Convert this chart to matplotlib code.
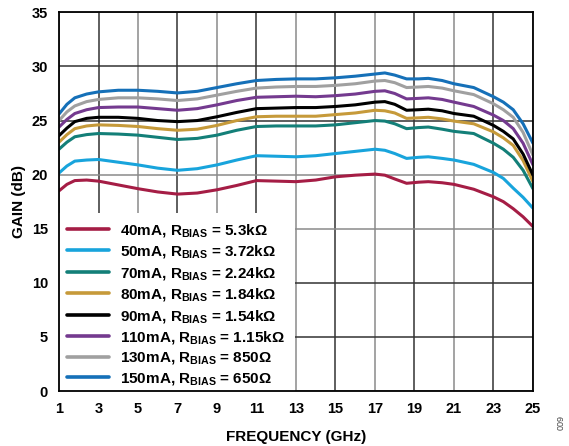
import matplotlib
matplotlib.use('Agg')
import matplotlib.pyplot as plt
from matplotlib.patches import Rectangle

plt.rcParams['font.family'] = ['Liberation Sans', 'DejaVu Sans']
plt.rcParams['font.weight'] = 'bold'
plt.rcParams['mathtext.fontset'] = 'custom'
plt.rcParams['mathtext.rm'] = 'Liberation Sans:bold'
plt.rcParams['mathtext.bf'] = 'Liberation Sans:bold'
plt.rcParams['mathtext.it'] = 'Liberation Sans:bold'

# frequency points (GHz)
freq = [1, 1.4, 1.8, 2.4, 3, 4, 5, 6, 7, 8, 9, 10, 11, 12, 13, 14, 15, 16, 17,
        17.5, 18, 18.6, 19.2, 19.7, 20.4, 21, 22, 23, 23.5, 24, 24.5, 25]

gain_40 = [18.5, 19.1, 19.45, 19.5, 19.4, 19.05, 18.7, 18.4, 18.2, 18.3, 18.6, 19.0, 19.45, 19.4,
           19.35, 19.5, 19.8, 19.95, 20.05, 19.95, 19.6, 19.2, 19.3, 19.35, 19.25, 19.1, 18.65,
           17.95, 17.5, 16.85, 16.1, 15.2]
gain_50 = [20.15, 20.8, 21.25, 21.35, 21.4, 21.15, 20.9, 20.6, 20.4, 20.55, 20.9, 21.35, 21.75, 21.7,
           21.65, 21.75, 21.95, 22.15, 22.35, 22.25, 21.95, 21.5, 21.6, 21.65, 21.5, 21.35, 20.95,
           20.2, 19.65, 18.75, 17.9, 16.9]
gain_70 = [22.35, 23.0, 23.5, 23.7, 23.8, 23.75, 23.65, 23.45, 23.25, 23.35, 23.65, 24.1, 24.45, 24.5,
           24.5, 24.5, 24.6, 24.8, 25.0, 24.95, 24.7, 24.25, 24.35, 24.4, 24.2, 24.0, 23.8,
           22.9, 22.35, 21.6, 20.4, 18.7]
gain_80 = [23.0, 23.7, 24.25, 24.5, 24.6, 24.55, 24.45, 24.25, 24.1, 24.2, 24.55, 25.0, 25.35, 25.4,
           25.4, 25.4, 25.55, 25.7, 25.95, 25.9, 25.7, 25.2, 25.25, 25.3, 25.15, 24.95, 24.7,
           23.95, 23.4, 22.7, 21.3, 19.35]
gain_90 = [23.6, 24.3, 24.9, 25.2, 25.3, 25.3, 25.2, 25.0, 24.9, 25.0, 25.35, 25.75, 26.1, 26.15,
           26.2, 26.2, 26.3, 26.45, 26.7, 26.75, 26.5, 25.95, 26.0, 26.05, 25.9, 25.65, 25.4,
           24.55, 24.0, 23.3, 21.9, 19.95]
gain_110 = [24.4, 25.1, 25.65, 26.0, 26.2, 26.25, 26.25, 26.1, 25.95, 26.1, 26.45, 26.85, 27.15, 27.2,
            27.25, 27.2, 27.3, 27.45, 27.7, 27.75, 27.5, 27.0, 27.05, 27.1, 26.95, 26.7, 26.3,
            25.5, 25.0, 24.25, 22.9, 20.9]
gain_130 = [25.0, 25.8, 26.35, 26.75, 26.95, 27.1, 27.1, 27.0, 26.85, 27.0, 27.35, 27.7, 28.0, 28.1,
            28.15, 28.15, 28.25, 28.4, 28.65, 28.7, 28.5, 28.05, 28.1, 28.15, 28.0, 27.75, 27.4,
            26.55, 26.0, 25.3, 23.9, 21.8]
gain_150 = [25.6, 26.5, 27.1, 27.45, 27.65, 27.8, 27.8, 27.7, 27.55, 27.7, 28.05, 28.4, 28.7, 28.8,
            28.85, 28.85, 28.95, 29.1, 29.3, 29.4, 29.2, 28.85, 28.85, 28.9, 28.7, 28.4, 28.05,
            27.2, 26.7, 26.0, 24.7, 22.9]

labels = [
    '40mA, R$_{BIAS}$ = 5.3kΩ',
    '50mA, R$_{BIAS}$ = 3.72kΩ',
    '70mA, R$_{BIAS}$ = 2.24kΩ',
    '80mA, R$_{BIAS}$ = 1.84kΩ',
    '90mA, R$_{BIAS}$ = 1.54kΩ',
    '110mA, R$_{BIAS}$ = 1.15kΩ',
    '130mA, R$_{BIAS}$ = 850Ω',
    '150mA, R$_{BIAS}$ = 650Ω',
]
series = [gain_40, gain_50, gain_70, gain_80, gain_90, gain_110, gain_130, gain_150]
colors = ['#A51D45', '#18A4DC', '#137F78', '#C69A3A', '#000000', '#743A8F', '#A0A0A0', '#1570B8']

fig = plt.figure(figsize=(5.69, 4.46), dpi=100)
ax = fig.add_axes([0.1037, 0.1233, 0.833, 0.849])

for g, c, lab in zip(series, colors, labels):
    ax.plot(freq, g, color=c, lw=2.2, label=lab, zorder=4,
            solid_joinstyle='round', solid_capstyle='round')

ax.set_xlim(1, 25)
ax.set_ylim(0, 35)
ax.set_xticks(range(1, 26, 2))
ax.set_yticks(range(0, 36, 5))
ax.tick_params(length=0, labelsize=10.5)
ax.tick_params(axis='x', pad=8)
ax.tick_params(axis='y', pad=8)

ax.grid(True, lw=1.1, zorder=1)
ax.set_axisbelow(True)
for i, gl in enumerate(ax.get_xgridlines()):
    gl.set_color('#333333' if i % 2 == 1 else '#8a8a8a')
ydark = {5, 10, 25, 30}
for v, gl in zip(range(0, 36, 5), ax.get_ygridlines()):
    gl.set_color('#333333' if v in ydark else '#8a8a8a')

for s in ax.spines.values():
    s.set_color('black')
    s.set_linewidth(1.3)
    s.set_zorder(6)

# white area behind the legend
ax.add_patch(Rectangle((0, 0), 0.497, 0.469, transform=ax.transAxes,
                       facecolor='white', edgecolor='none', zorder=2))
leg = ax.legend(loc='upper left', bbox_to_anchor=(0.0, 0.469), frameon=False,
                fontsize=11, handlelength=2.75, handletextpad=0.7,
                labelspacing=0.29, borderaxespad=0.25, borderpad=0.3)
for t in leg.get_texts():
    t.set_fontweight('bold')
for h in leg.get_lines():
    h.set_linewidth(2.6)

ax.set_xlabel('FREQUENCY (GHz)', fontsize=11, fontweight='bold', labelpad=10)
ax.set_ylabel('GAIN (dB)', fontsize=11, fontweight='bold', labelpad=4)

fig.text(0.987, 0.053, '009', rotation=90, fontsize=6.5, fontweight='normal',
         color='#444444', ha='center', va='center')

fig.savefig('out.png', dpi=100)
